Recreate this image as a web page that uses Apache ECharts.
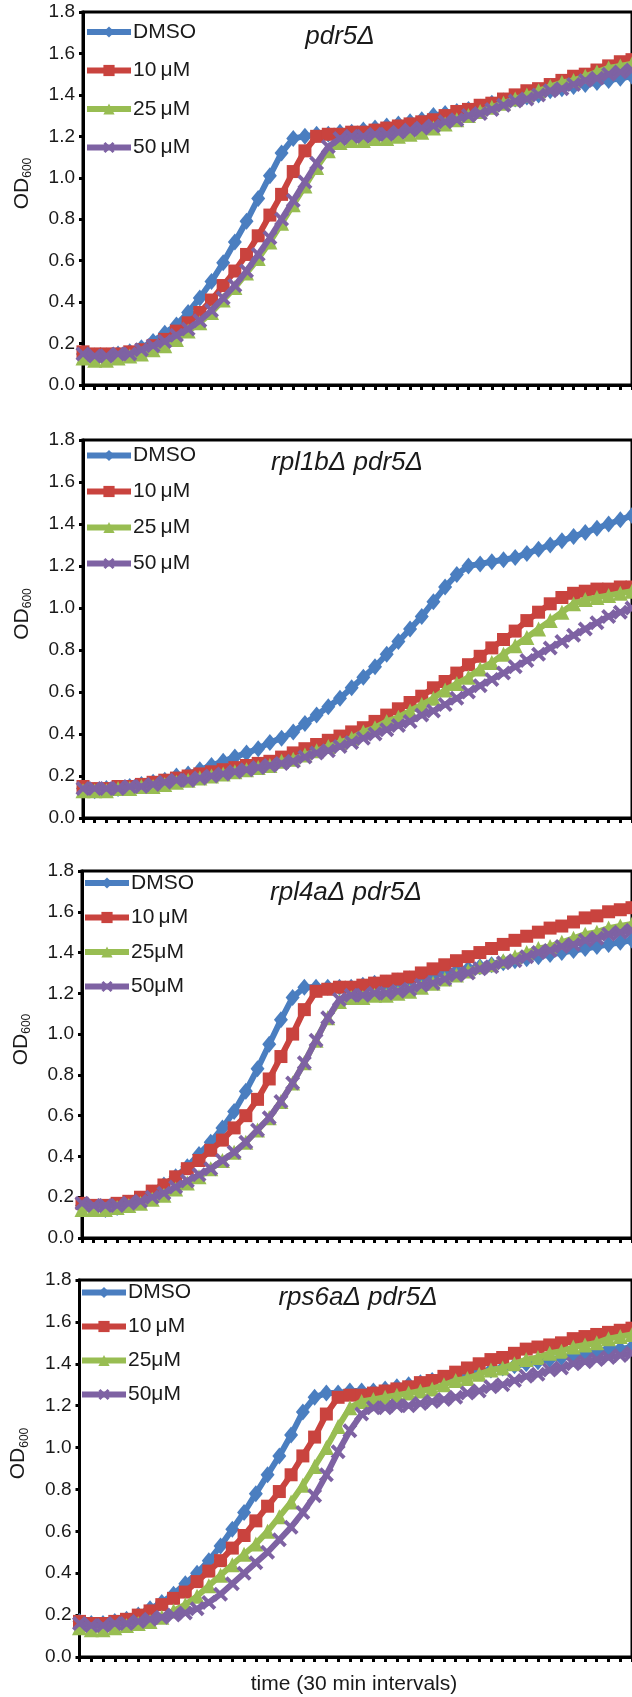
<!DOCTYPE html>
<html><head><meta charset="utf-8">
<script src="https://cdn.jsdelivr.net/npm/echarts@6/dist/echarts.min.js"></script>
<style>html,body{margin:0;padding:0;background:#fff}#c{width:632px;height:1697px}</style>
</head><body><div id="c"></div>
<script>
// ---- data ----
const timePoints = [1,2,3,4,5,6,7,8,9,10,11,12,13,14,15,16,17,18,19,20,21,22,23,24,25,26,27,28,29,30,31,32,33,34,35,36,37,38,39,40,41,42,43,44,45,46,47,48];
const yTickLabels = ['0.0','0.2','0.4','0.6','0.8','1.0','1.2','1.4','1.6','1.8'];
const panelTitles = ['pdr5Δ', 'rpl1bΔ pdr5Δ', 'rpl4aΔ pdr5Δ', 'rps6aΔ pdr5Δ'];
const xAxisTitle = 'time (30 min intervals)';
const namesA = ['DMSO', '10\u2009μM', '25\u2009μM', '50\u2009μM'];
const namesB = ['DMSO', '10\u2009μM', '25μM', '50μM'];

const p1_dmso = [.15,.14,.14,.15,.16,.18,.21,.25,.29,.35,.42,.50,.59,.69,.79,.90,1.01,1.12,1.19,1.20,1.21,1.21,1.22,1.22,1.23,1.24,1.25,1.26,1.27,1.28,1.30,1.31,1.32,1.33,1.34,1.36,1.37,1.38,1.39,1.40,1.42,1.43,1.44,1.45,1.46,1.47,1.48,1.49];
const p1_10 = [.16,.15,.15,.15,.16,.17,.19,.22,.26,.30,.35,.41,.48,.55,.63,.72,.82,.92,1.03,1.13,1.20,1.21,1.21,1.22,1.22,1.23,1.24,1.25,1.26,1.27,1.28,1.30,1.32,1.33,1.35,1.36,1.38,1.40,1.42,1.43,1.45,1.47,1.49,1.50,1.52,1.54,1.56,1.57];
const p1_25 = [.13,.12,.12,.13,.14,.15,.17,.19,.22,.26,.30,.35,.41,.47,.54,.61,.69,.78,.87,.96,1.05,1.13,1.17,1.18,1.18,1.19,1.19,1.20,1.21,1.22,1.24,1.26,1.28,1.30,1.32,1.34,1.36,1.38,1.40,1.42,1.44,1.46,1.47,1.49,1.51,1.53,1.54,1.55];
const p1_50 = [.15,.14,.14,.15,.15,.17,.19,.21,.24,.27,.31,.36,.42,.48,.55,.63,.71,.80,.89,.98,1.07,1.15,1.19,1.20,1.20,1.21,1.21,1.22,1.23,1.24,1.25,1.27,1.28,1.30,1.31,1.33,1.35,1.37,1.38,1.40,1.42,1.43,1.45,1.47,1.48,1.50,1.51,1.52];

const p2_dmso = [.14,.13,.14,.14,.15,.16,.17,.18,.20,.21,.23,.25,.27,.29,.31,.33,.36,.38,.41,.45,.49,.53,.57,.62,.67,.72,.78,.84,.90,.96,1.03,1.10,1.16,1.20,1.21,1.22,1.23,1.24,1.26,1.28,1.30,1.32,1.34,1.36,1.38,1.40,1.42,1.44];
const p2_10 = [.15,.14,.14,.15,.15,.16,.17,.18,.19,.20,.21,.22,.23,.24,.25,.26,.27,.29,.31,.33,.35,.37,.39,.41,.43,.46,.49,.52,.55,.58,.62,.65,.69,.73,.77,.81,.85,.89,.94,.98,1.02,1.05,1.07,1.08,1.09,1.09,1.10,1.10];
const p2_25 = [.13,.13,.13,.14,.14,.15,.15,.16,.17,.18,.19,.20,.21,.22,.23,.24,.25,.27,.28,.30,.32,.34,.36,.38,.41,.43,.46,.48,.51,.54,.57,.61,.64,.67,.71,.74,.78,.82,.86,.90,.94,.98,1.02,1.04,1.05,1.06,1.07,1.08];
const p2_50 = [.14,.14,.14,.14,.15,.15,.16,.17,.18,.18,.19,.20,.21,.22,.23,.24,.25,.26,.27,.29,.31,.32,.34,.36,.38,.40,.42,.44,.46,.49,.51,.54,.57,.60,.63,.66,.69,.72,.75,.78,.81,.84,.87,.90,.93,.96,.98,1.00];

const p3_dmso = [.16,.15,.14,.15,.17,.19,.22,.26,.30,.35,.41,.47,.54,.62,.72,.83,.95,1.07,1.18,1.23,1.23,1.23,1.23,1.23,1.24,1.25,1.25,1.26,1.27,1.28,1.29,1.30,1.31,1.32,1.33,1.34,1.35,1.36,1.37,1.38,1.39,1.40,1.41,1.42,1.43,1.44,1.45,1.46];
const p3_10 = [.17,.16,.16,.17,.18,.20,.23,.26,.30,.34,.38,.43,.48,.54,.60,.68,.78,.89,1.00,1.12,1.21,1.22,1.23,1.23,1.24,1.25,1.26,1.27,1.28,1.30,1.32,1.34,1.36,1.38,1.40,1.42,1.44,1.46,1.48,1.50,1.52,1.53,1.55,1.57,1.58,1.60,1.61,1.62];
const p3_25 = [.14,.14,.14,.15,.16,.17,.19,.21,.24,.27,.30,.34,.38,.42,.47,.53,.59,.67,.76,.86,.97,1.08,1.16,1.18,1.18,1.19,1.19,1.20,1.21,1.23,1.25,1.27,1.29,1.31,1.33,1.34,1.36,1.38,1.40,1.42,1.43,1.45,1.47,1.49,1.50,1.52,1.53,1.54];
const p3_50 = [.17,.16,.16,.16,.17,.18,.20,.22,.25,.28,.31,.34,.38,.42,.47,.53,.59,.67,.76,.86,.97,1.08,1.17,1.19,1.19,1.20,1.20,1.21,1.22,1.24,1.25,1.27,1.29,1.30,1.32,1.33,1.35,1.36,1.38,1.40,1.41,1.43,1.44,1.46,1.47,1.49,1.50,1.51];

const p4_dmso = [.17,.16,.16,.17,.18,.20,.23,.26,.30,.35,.40,.46,.53,.61,.69,.78,.87,.96,1.06,1.17,1.24,1.26,1.26,1.27,1.27,1.27,1.28,1.29,1.30,1.31,1.32,1.33,1.34,1.35,1.36,1.37,1.38,1.39,1.40,1.41,1.42,1.43,1.44,1.45,1.46,1.47,1.47,1.48];
const p4_10 = [.17,.16,.16,.17,.18,.20,.22,.25,.28,.31,.36,.41,.46,.52,.58,.65,.72,.79,.87,.96,1.05,1.16,1.24,1.25,1.25,1.26,1.27,1.28,1.29,1.31,1.32,1.34,1.36,1.38,1.40,1.42,1.43,1.45,1.47,1.48,1.49,1.50,1.52,1.53,1.54,1.55,1.56,1.57];
const p4_25 = [.14,.13,.13,.14,.15,.16,.17,.19,.22,.25,.29,.34,.39,.44,.49,.54,.60,.67,.74,.82,.91,1.00,1.10,1.19,1.22,1.23,1.24,1.25,1.26,1.27,1.28,1.30,1.32,1.33,1.35,1.37,1.38,1.40,1.42,1.43,1.45,1.46,1.48,1.49,1.50,1.52,1.53,1.54];
const p4_50 = [.16,.15,.15,.16,.16,.17,.18,.19,.20,.21,.23,.26,.30,.35,.40,.45,.50,.56,.62,.69,.77,.87,.98,1.08,1.16,1.19,1.19,1.20,1.20,1.21,1.22,1.23,1.24,1.26,1.27,1.29,1.30,1.32,1.34,1.35,1.37,1.38,1.40,1.41,1.42,1.43,1.44,1.45];

const panelData = [
  [p1_dmso, p1_10, p1_25, p1_50],
  [p2_dmso, p2_10, p2_25, p2_50],
  [p3_dmso, p3_10, p3_25, p3_50],
  [p4_dmso, p4_10, p4_25, p4_50]
];
const panelNames = [namesA, namesA, namesB, namesB];

// ---- styling / layout ----
const FONT = '"Liberation Sans", Arial, sans-serif';
const colors = ['#4A7EC0', '#C9433E', '#98BD52', '#7E62A3'];
const xPath = 'path://M0,2.2L2.2,0L6,3.8L9.8,0L12,2.2L8.2,6L12,9.8L9.8,12L6,8.2L2.2,12L0,9.8L3.8,6Z';
const symbols = ['diamond', 'rect', 'triangle', xPath];
const symbolSizes = [[14, 17], 13, 15, 15];
const grids = [
  {left: 83, top: 12, height: 373},
  {left: 83, top: 440, height: 378},
  {left: 82, top: 871, height: 367},
  {left: 77, top: 1280, height: 377}
];
const SPACING = 11.9;
const legendPos = [
  {left: 79, top: 16.5, gap: 17.5},
  {left: 79, top: 440, gap: 15},
  {left: 77, top: 867.5, gap: 13.5},
  {left: 74, top: 1277, gap: 13}
];
const titlePos = [[340, 37], [347, 463], [346, 893], [358, 1298]];

const option = {animation: false, grid: [], xAxis: [], yAxis: [], series: [], legend: [], graphic: []};
grids.forEach((g, k) => {
  option.grid.push({left: g.left, top: g.top, height: g.height, width: SPACING * (timePoints.length - 1),
    show: true, borderColor: '#000', borderWidth: 3, backgroundColor: 'transparent'});
  option.xAxis.push({gridIndex: k, type: 'category', data: timePoints, boundaryGap: false,
    axisLine: {lineStyle: {color: '#000', width: 3}},
    axisTick: {show: true, interval: 0, length: 5, lineStyle: {color: '#000', width: 3}},
    axisLabel: {show: false}, splitLine: {show: false}});
  option.yAxis.push({gridIndex: k, type: 'value', min: 0, max: 1.8, interval: 0.2,
    axisLine: {show: true, lineStyle: {color: '#000', width: 3}},
    axisTick: {show: true, length: 4, lineStyle: {color: '#000', width: 3}},
    axisLabel: {formatter: v => yTickLabels[Math.round(v / 0.2)], fontSize: 19, color: '#1a1a1a', margin: 8, fontFamily: FONT},
    splitLine: {show: false},
    name: '{a|OD}{b|600}', nameLocation: 'middle', nameRotate: 90, nameGap: 49,
    nameTextStyle: {padding: [0, 0, 0, 30], rich: {
      a: {fontSize: 21, fontFamily: FONT, color: '#1a1a1a', lineHeight: 24},
      b: {fontSize: 12, fontFamily: FONT, color: '#1a1a1a', verticalAlign: 'bottom', lineHeight: 24, padding: [7, 0, 0, 0]}
    }}});
  const names = panelNames[k];
  panelData[k].forEach((arr, s) => {
    option.series.push({type: 'line', name: names[s], xAxisIndex: k, yAxisIndex: k, data: arr,
      symbol: symbols[s], symbolSize: symbolSizes[s], showSymbol: true, showAllSymbol: true,
      lineStyle: {width: 6, color: colors[s]}, itemStyle: {color: colors[s]}, z: 2 + s});
  });
  const lp = legendPos[k];
  option.legend.push({data: names, orient: 'vertical', left: lp.left, top: lp.top,
    itemWidth: 44, itemHeight: 14, itemGap: lp.gap, selectedMode: false,
    lineStyle: {width: 6},
    textStyle: {fontSize: 21, fontFamily: FONT, color: '#1a1a1a', padding: [0, 0, 0, -3]}});
  option.graphic.push({type: 'text', x: titlePos[k][0], y: titlePos[k][1],
    style: {text: panelTitles[k], font: 'italic 26px ' + FONT, fill: '#1a1a1a', textAlign: 'center', textVerticalAlign: 'middle'}});
});
option.graphic.push({type: 'text', x: 354, y: 1684,
  style: {text: xAxisTitle, font: '21px ' + FONT, fill: '#1a1a1a', textAlign: 'center', textVerticalAlign: 'middle'}});

const chart = echarts.init(document.getElementById('c'), null, {renderer: 'canvas'});
chart.setOption(option);
</script></body></html>
